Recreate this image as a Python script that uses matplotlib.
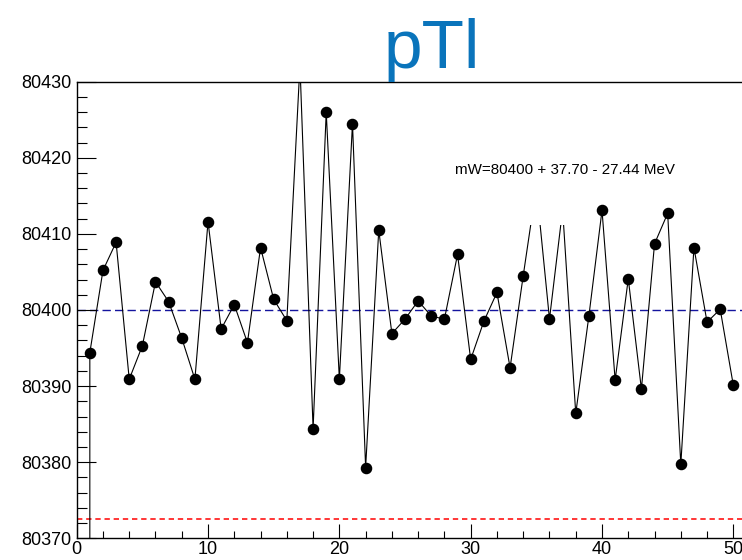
import matplotlib
matplotlib.use("Agg")
import matplotlib.pyplot as plt
from matplotlib.ticker import MultipleLocator
from matplotlib.patches import Rectangle

plt.rcParams["font.family"] = ["Liberation Sans", "DejaVu Sans"]

# toy index -> fitted W mass (MeV); point 0 is the unset (0, 0) entry of the graph
toy = list(range(0, 51))
mw = [0.0,
      80394.4, 80405.2, 80408.9, 80390.9, 80395.3, 80403.7, 80401.1, 80396.3, 80390.9, 80411.6,
      80397.5, 80400.7, 80395.7, 80408.2, 80401.4, 80398.6, 80432.2, 80384.4, 80426.0, 80390.9,
      80424.5, 80379.3, 80410.5, 80396.9, 80398.8, 80401.2, 80399.2, 80398.8, 80407.3, 80393.5,
      80398.5, 80402.3, 80392.4, 80404.5, 80416.2, 80398.8, 80413.2, 80386.4, 80399.2, 80413.1,
      80390.8, 80404.1, 80389.6, 80408.7, 80412.7, 80379.7, 80408.2, 80398.4, 80400.1, 80390.1]

mw_nominal = 80400.0
err_up = 37.70
err_down = 27.44

fig = plt.figure(figsize=(7.42, 5.6), dpi=100)
ax = fig.add_axes([76.7 / 742, 1 - 538.3 / 560, 722.3 / 742, (538.3 - 81.7) / 560])

ax.plot(toy, mw, color="black", lw=0.8, marker="o", ms=7.3,
        mfc="black", mec="black", zorder=2)

# reference value and the error band edges
ax.axhline(mw_nominal, color="#14149e", lw=1.0, ls=(0, (6, 3)), zorder=1)
ax.axhline(mw_nominal - err_down, color="#ff0000", lw=1.1, ls=(0, (3.5, 2.5)), zorder=1)
ax.axhline(mw_nominal + err_up, color="#ff0000", lw=1.1, ls=(0, (3.5, 2.5)), zorder=1)

# blank pad sitting over part of the graph
ax.add_patch(Rectangle((34.55, 80411.2), 3.1, 8.0, facecolor="white",
                       edgecolor="none", zorder=3))

ax.text(28.8, 80417.9, f"mW={mw_nominal:.0f} + {err_up:.2f} - {err_down:.2f} MeV",
        fontsize=10.9, ha="left", va="baseline", zorder=4)

ax.set_xlim(0, 55)
ax.set_ylim(80370, 80430)
ax.set_xticks([0, 10, 20, 30, 40, 50])
ax.xaxis.set_minor_locator(MultipleLocator(2))
ax.yaxis.set_major_locator(MultipleLocator(10))
ax.yaxis.set_minor_locator(MultipleLocator(2))
ax.yaxis.get_major_formatter().set_useOffset(False)

ax.tick_params(axis="both", which="both", direction="in", top=False, right=False,
               labelsize=13, width=0.8, color="black")
ax.tick_params(axis="y", which="major", length=14, pad=4)
ax.tick_params(axis="y", which="minor", length=7)
ax.tick_params(axis="x", which="major", length=10, pad=2)
ax.tick_params(axis="x", which="minor", length=5)

for side in ["left", "bottom", "top"]:
    ax.spines[side].set_linewidth(1.0)
ax.spines["right"].set_visible(False)

fig.text(432 / 742, 1 - 68 / 560, "pTl", fontsize=50, color="#0a74bb",
         ha="center", va="baseline")

fig.savefig("out.png", dpi=100)
